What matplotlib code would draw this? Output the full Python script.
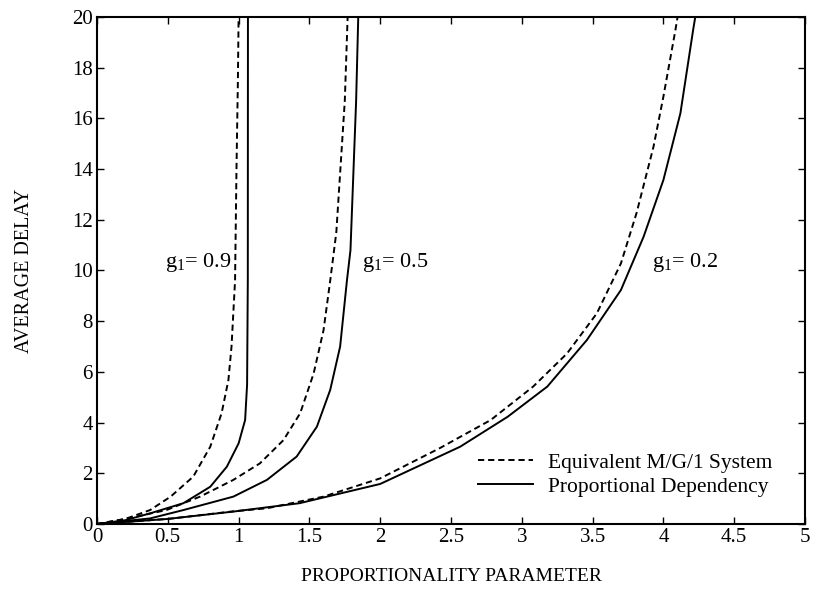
import matplotlib
matplotlib.use("Agg")
import matplotlib.pyplot as plt

plt.rcParams['font.family'] = ['Liberation Serif', 'DejaVu Serif']
plt.rcParams['mathtext.fontset'] = 'custom'
plt.rcParams['mathtext.rm'] = 'Liberation Serif'

# g1 = 0.9
x09_mg1 = [0, 0.2, 0.375, 0.52, 0.68, 0.80, 0.88, 0.928, 0.95, 0.975, 0.985, 0.995, 1.0]
y09_mg1 = [0, 0.2, 0.55, 1.08, 1.87, 3.05, 4.37, 5.68, 7.0, 9.6, 14.0, 17.5, 20]
x09_pd = [0, 0.2, 0.375, 0.61, 0.80, 0.917, 1.0, 1.046, 1.06, 1.065, 1.066]
y09_pd = [0, 0.15, 0.42, 0.82, 1.47, 2.26, 3.18, 4.1, 5.5, 9.6, 20]

# g1 = 0.5
x05_mg1 = [0, 0.2, 0.49, 0.728, 0.963, 1.15, 1.317, 1.435, 1.53, 1.60, 1.647, 1.69, 1.75, 1.77]
y05_mg1 = [0, 0.2, 0.55, 1.08, 1.74, 2.39, 3.31, 4.37, 5.94, 7.65, 9.6, 11.5, 16.7, 20]
x05_pd = [0, 0.2, 0.375, 0.61, 0.963, 1.2, 1.41, 1.553, 1.647, 1.717, 1.765, 1.79, 1.83, 1.845]
y05_pd = [0, 0.12, 0.22, 0.55, 1.08, 1.74, 2.66, 3.84, 5.29, 7.0, 9.6, 10.8, 16.7, 20]

# g1 = 0.2
x02_mg1 = [0, 0.5, 0.963, 1.2, 1.6, 2.0, 2.42, 2.78, 3.08, 3.32, 3.53, 3.70, 3.81, 3.93, 4.0, 4.085, 4.1]
y02_mg1 = [0, 0.2, 0.5, 0.62, 1.08, 1.8, 2.99, 4.10, 5.42, 6.73, 8.31, 10.28, 12.26, 14.88, 16.86, 19.49, 20]
x02_pd = [0, 0.5, 0.963, 1.43, 2.0, 2.565, 2.90, 3.18, 3.46, 3.70, 3.86, 4.0, 4.12, 4.21, 4.225]
y02_pd = [0, 0.2, 0.49, 0.82, 1.58, 3.05, 4.23, 5.42, 7.26, 9.23, 11.33, 13.57, 16.2, 19.49, 20]

xticks = [0, 0.5, 1, 1.5, 2, 2.5, 3, 3.5, 4, 4.5, 5]
xticklabels = ['0', '0.5', '1', '1.5', '2', '2.5', '3', '3.5', '4', '4.5', '5']
yticks = [0, 2, 4, 6, 8, 10, 12, 14, 16, 18, 20]

fig = plt.figure(figsize=(8.18, 5.92), dpi=100)
ax = fig.add_axes([97/818, 68/592, 708/818, 507/592])

dash = (0, (3.2, 2.0))
lw = 1.4
kw = dict(color='black', lw=lw, solid_joinstyle='round', dash_joinstyle='round')
ax.plot(x09_mg1, y09_mg1, linestyle=dash, **kw)
ax.plot(x09_pd, y09_pd, **kw)
ax.plot(x05_mg1, y05_mg1, linestyle=dash, **kw)
ax.plot(x05_pd, y05_pd, **kw)
l1, = ax.plot(x02_mg1, y02_mg1, linestyle=dash, **kw)
l2, = ax.plot(x02_pd, y02_pd, **kw)

ax.set_xlim(0, 5)
ax.set_ylim(0, 20)
ax.set_xticks(xticks)
ax.set_xticklabels(xticklabels)
ax.set_yticks(yticks)
ax.tick_params(direction='in', length=5, width=1.0, top=True, right=True,
               labelsize=15, pad=3)
for s in ax.spines.values():
    s.set_linewidth(1.5)

ax.set_xlabel('PROPORTIONALITY PARAMETER', fontsize=14, labelpad=15)
ax.set_ylabel('AVERAGE DELAY', fontsize=14.5, labelpad=27)

ax.text(0.48, 10.3, r'$\mathregular{g_1}$= 0.9', fontsize=16, va='center', ha='left')
ax.text(1.87, 10.3, r'$\mathregular{g_1}$= 0.5', fontsize=16, va='center', ha='left')
ax.text(3.92, 10.3, r'$\mathregular{g_1}$= 0.2', fontsize=16, va='center', ha='left')

ax.legend([l1, l2], ['Equivalent M/G/1 System', 'Proportional Dependency'],
          loc='lower right', bbox_to_anchor=(0.981, 0.015), frameon=False,
          fontsize=15.5, handlelength=2.55, handletextpad=0.7, labelspacing=0.2)

fig.savefig('out.png', dpi=100)
